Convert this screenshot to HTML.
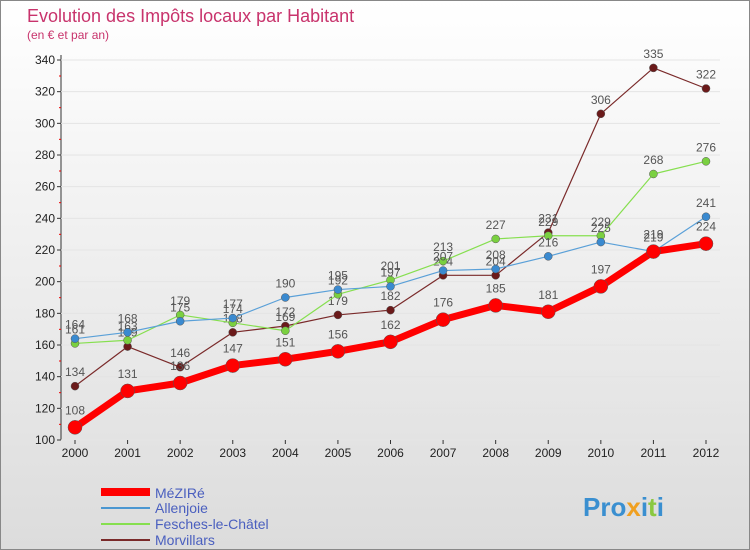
<!DOCTYPE html>
<html><head><meta charset="utf-8"><style>
body{margin:0;width:750px;height:550px;overflow:hidden;font-family:"Liberation Sans",sans-serif}
svg{display:block}
</style></head><body>
<svg id="chart" width="750" height="550">
<defs><linearGradient id="bg" x1="0" y1="0" x2="0" y2="1"><stop offset="0" stop-color="#ffffff"/><stop offset="1" stop-color="#dcdcdc"/></linearGradient></defs>
<rect x="0.5" y="0.5" width="749" height="549" fill="url(#bg)" stroke="#888"/>
<text x="27" y="22" font-size="18" fill="#c8336c">Evolution des Impôts locaux par Habitant</text>
<text x="27" y="39" font-size="12" fill="#c8336c">(en € et par an)</text>
<g id="axes"></g><g id="series"></g>
<g>
<line x1="101" y1="492" x2="150" y2="492" stroke="#ff0000" stroke-width="8"/>
<text x="155" y="498" font-size="14" fill="#4a5fbf">MéZIRé</text>
<line x1="101" y1="508" x2="150" y2="508" stroke="#4b97d1" stroke-width="2"/>
<text x="155" y="513" font-size="14" fill="#4a5fbf">Allenjoie</text>
<line x1="101" y1="524" x2="150" y2="524" stroke="#86df4f" stroke-width="2"/>
<text x="155" y="529" font-size="14" fill="#4a5fbf">Fesches-le-Châtel</text>
<line x1="101" y1="540" x2="150" y2="540" stroke="#7a2a2a" stroke-width="2"/>
<text x="155" y="545" font-size="14" fill="#4a5fbf">Morvillars</text>
</g>
<text x="583" y="516" font-size="26" font-weight="bold" fill="#3a8fd0">Pro<tspan fill="#f0a020">x</tspan>i<tspan fill="#8ac840">t</tspan>i</text>
</svg>
<script>
const years=[2000,2001,2002,2003,2004,2005,2006,2007,2008,2009,2010,2011,2012];
const mezire=[108,131,136,147,151,156,162,176,185,181,197,219,224];
const allenjoie=[164,168,175,177,190,195,197,207,208,216,225,219,241];
const fesches=[161,163,179,174,169,192,201,213,227,229,229,268,276];
const morvillars=[134,159,146,168,172,179,182,204,204,231,306,335,322];
const yTicks=[100,120,140,160,180,200,220,240,260,280,300,320,340];
const NS="http://www.w3.org/2000/svg";
const x0=75,x1=706,yb=440,yt=60,vmin=100,vmax=340;
const xs=i=>x0+(x1-x0)*i/(years.length-1);
const ys=v=>yb-(v-vmin)/(vmax-vmin)*(yb-yt);
function mk(t,a,p){const e=document.createElementNS(NS,t);for(const k in a)e.setAttribute(k,a[k]);p.appendChild(e);return e;}
const ax=document.getElementById('axes');
let l=mk('line',{x1:61,y1:yt-5,x2:61,y2:yb,stroke:'#333'},ax);


l=mk('line',{x1:61,y1:yb,x2:720,y2:yb,stroke:'#333'},ax);


yTicks.forEach((v,k)=>{const y=ys(v);
 const g=mk('line',{x1:61,y1:y,x2:720,y2:y,stroke:'#e4e4e4'},ax);
 
 
 const tk=mk('line',{x1:57,y1:y,x2:61,y2:y,stroke:'#333'},ax);
 
 
 if(k>0){
 const m=mk('line',{x1:59,y1:y+16,x2:61,y2:y+16,stroke:'#e00'},ax);
 
 
 }
 const t=mk('text',{x:55,y:y+4,'font-size':12,'text-anchor':'end',fill:'#222'},ax);t.textContent=v;
 
 
});
years.forEach((yr,i)=>{const x=xs(i);
 const tk=mk('line',{x1:x,y1:yb,x2:x,y2:yb+4,stroke:'#333'},ax);
 
 
 const t=mk('text',{x:x,y:yb+17,'font-size':12,'text-anchor':'middle',fill:'#222'},ax);t.textContent=yr;
 
 
});
const sg=document.getElementById('series');
function draw(d,name,color,w,r,dot){
 const g=mk('g',{},sg);
 
 
 const pl=mk('polyline',{points:d.map((v,i)=>xs(i)+','+ys(v)).join(' '),fill:'none',stroke:color,'stroke-width':w,'stroke-linejoin':'round'},g);
 
 
 d.forEach((v,i)=>{
  const c=mk('circle',{cx:xs(i),cy:ys(v),r:r,fill:dot,stroke:'#555','stroke-width':0.5},g);
  
  
  const t=mk('text',{x:xs(i),y:ys(v)-(r+6),'font-size':12,'text-anchor':'middle',fill:'#555'},g);t.textContent=v;
  
  
 });
}
draw(morvillars,'morvillars','#7a2a2a',1.2,4,'#6b1a1a');
draw(fesches,'fesches','#86df4f',1.2,4,'#7ad040');
draw(allenjoie,'allenjoie','#5aa0d8',1.2,4,'#3a8ad0');
draw(mezire,'mezire','#ff0000',7,7,'#ff0000');
</script>
</body></html>
